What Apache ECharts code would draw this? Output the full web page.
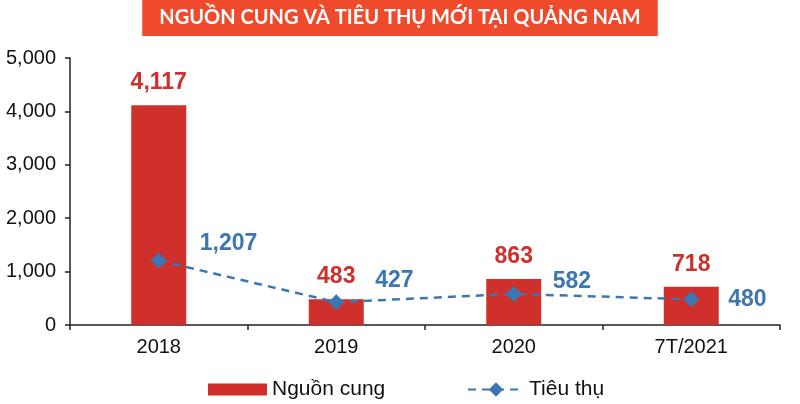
<!DOCTYPE html>
<html>
<head>
<meta charset="utf-8">
<script src="https://cdn.jsdelivr.net/npm/echarts@6/dist/echarts.min.js"></script>
<style>
  html, body { margin: 0; padding: 0; background: #fff; }
  #chart { width: 800px; height: 404px; }
</style>
</head>
<body>
<div id="chart"></div>
<script>
var categories = ['2018', '2019', '2020', '7T/2021'];
var supply = [4117, 483, 863, 718];
var consumption = [1207, 427, 582, 480];

// nudges for the blue labels so they sit like the original
var lineLabelOffsets = [[2, -17], [0, -22], [0, -12], [-2, 0]];

var RED = '#D0302B';
var BLUE = '#3D77B3';

function fmt(v) {
    return Number(v).toLocaleString('en-US');
}

var chart = echarts.init(document.getElementById('chart'));

var lineData = [];
for (let i = 0; i < consumption.length; i++) {
    lineData.push({
        value: consumption[i],
        label: { offset: lineLabelOffsets[i] }
    });
}

var legendText = {
    color: '#111',
    fontFamily: 'Liberation Sans',
    fontSize: 21
};

var option = {
    animation: false,
    title: {
        text: 'NGUỒN CUNG VÀ TIÊU THỤ MỚI TẠI QUẢNG NAM',
        left: 'center',
        top: 0,
        backgroundColor: '#EF4A2B',
        padding: [8, 17, 8, 17],
        textStyle: {
            color: '#fff',
            fontFamily: 'Lato',
            fontWeight: 'bold',
            fontSize: 20
        }
    },
    grid: {
        left: 70,
        right: 20,
        top: 58,
        bottom: 79
    },
    legend: [
        {
            left: 203,
            top: 374,
            icon: 'rect',
            itemWidth: 59,
            itemHeight: 12,
            itemGap: 8,
            textStyle: legendText,
            data: ['Nguồn cung']
        },
        {
            left: 462,
            top: 374,
            itemWidth: 56,
            itemHeight: 18,
            textStyle: legendText,
            data: ['Tiêu thụ']
        }
    ],
    xAxis: {
        type: 'category',
        data: categories,
        axisLine: { lineStyle: { color: '#222', width: 1.5 } },
        axisTick: { show: true, length: 5, lineStyle: { color: '#222', width: 1.5 } },
        axisLabel: {
            color: '#111',
            fontFamily: 'Liberation Sans',
            fontSize: 20,
            margin: 12
        }
    },
    yAxis: {
        type: 'value',
        min: 0,
        max: 5000,
        interval: 1000,
        splitLine: { show: false },
        axisLine: { show: true, lineStyle: { color: '#222', width: 1.5 } },
        axisTick: { show: true, length: 5, lineStyle: { color: '#222', width: 1.5 } },
        axisLabel: {
            color: '#111',
            fontFamily: 'Liberation Sans',
            fontSize: 20,
            margin: 14,
            formatter: fmt
        }
    },
    series: [
        {
            name: 'Nguồn cung',
            type: 'bar',
            data: supply,
            barWidth: 55,
            itemStyle: { color: RED },
            label: {
                show: true,
                position: 'top',
                distance: 11,
                color: RED,
                fontFamily: 'Liberation Sans',
                fontWeight: 'bold',
                fontSize: 23,
                formatter: function (p) { return fmt(p.value); }
            }
        },
        {
            name: 'Tiêu thụ',
            type: 'line',
            data: lineData,
            symbol: 'diamond',
            symbolSize: 16,
            itemStyle: { color: BLUE },
            lineStyle: { color: BLUE, width: 2.5, type: [8, 6] },
            label: {
                show: true,
                position: 'right',
                distance: 31,
                color: BLUE,
                fontFamily: 'Liberation Sans',
                fontWeight: 'bold',
                fontSize: 23,
                formatter: function (p) { return fmt(p.value); }
            }
        }
    ]
};

chart.setOption(option);
</script>
</body>
</html>
